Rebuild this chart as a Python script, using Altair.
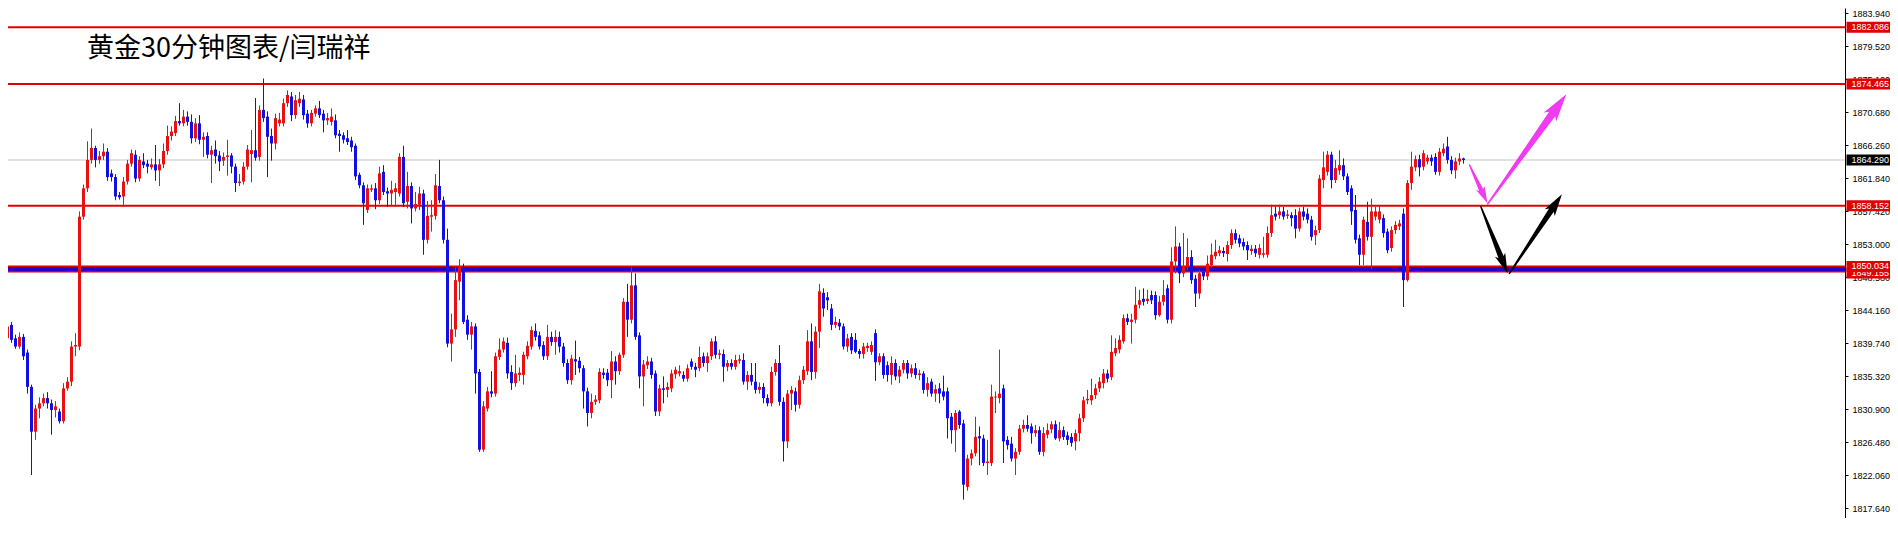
import math
import altair as alt
import pandas as pd

title_text = "黄金30分钟图表/闫瑞祥"

opens = [
1838.0, 1838.9, 1840.4, 1842.2, 1840.4, 1839.3, 1840.6, 1838.5, 1833.9, 1827.9,
1831.0, 1831.7, 1832.4, 1831.7, 1830.8, 1830.6, 1829.3, 1833.7, 1834.6, 1839.3,
1839.3, 1856.7, 1860.5, 1864.3, 1865.9, 1864.3, 1864.8, 1865.4, 1862.5, 1862.0,
1859.6, 1859.4, 1861.4, 1863.8, 1865.0, 1861.8, 1864.1, 1863.8, 1863.3, 1863.7,
1862.9, 1863.7, 1865.5, 1867.5, 1867.9, 1869.5, 1869.2, 1870.1, 1869.4, 1867.2,
1869.2, 1867.0, 1867.5, 1865.0, 1865.7, 1864.9, 1864.2, 1864.7, 1864.9, 1863.4,
1861.2, 1861.4, 1863.4, 1865.1, 1865.6, 1864.7, 1871.0, 1870.1, 1867.5, 1866.5,
1869.2, 1869.2, 1871.9, 1872.8, 1870.3, 1871.9, 1872.4, 1870.5, 1869.2, 1870.5,
1871.2, 1870.5, 1869.6, 1869.4, 1869.6, 1867.8, 1867.6, 1867.2, 1866.9, 1866.2,
1862.3, 1860.9, 1857.6, 1860.3, 1860.5, 1858.9, 1862.7, 1860.1, 1859.8, 1860.0,
1859.8, 1864.7, 1858.7, 1860.8, 1857.8, 1858.3, 1859.8, 1853.6, 1856.7, 1856.8,
1860.8, 1858.9, 1853.6, 1839.7, 1841.6, 1848.0, 1849.8, 1842.9, 1840.9, 1842.0,
1835.9, 1825.5, 1831.0, 1833.3, 1833.0, 1837.9, 1838.9, 1839.8, 1835.9, 1834.4,
1835.5, 1835.5, 1838.0, 1839.3, 1841.4, 1840.8, 1839.5, 1838.0, 1840.6, 1839.9,
1840.6, 1839.3, 1837.1, 1834.8, 1837.6, 1837.4, 1836.4, 1833.3, 1830.4, 1831.9,
1832.1, 1835.8, 1835.8, 1834.8, 1837.3, 1836.0, 1838.2, 1845.3, 1842.9, 1847.5,
1840.8, 1835.3, 1836.8, 1837.3, 1835.7, 1830.6, 1833.7, 1833.5, 1833.7, 1835.6,
1835.7, 1835.5, 1835.0, 1837.3, 1836.6, 1836.4, 1838.0, 1837.1, 1838.0, 1840.0,
1838.2, 1838.3, 1836.6, 1837.1, 1836.6, 1837.4, 1837.5, 1834.6, 1835.5, 1834.6,
1833.5, 1833.9, 1832.4, 1831.7, 1835.9, 1837.1, 1831.9, 1826.6, 1833.0, 1833.3,
1831.5, 1834.8, 1836.0, 1840.0, 1835.9, 1841.3, 1846.5, 1845.9, 1844.4, 1842.2,
1842.5, 1842.0, 1839.3, 1840.6, 1840.2, 1838.7, 1838.3, 1839.1, 1838.6, 1841.1,
1837.2, 1838.0, 1836.8, 1835.5, 1837.1, 1835.3, 1836.2, 1837.1, 1835.7, 1836.4,
1835.5, 1835.7, 1833.5, 1834.6, 1833.0, 1833.7, 1833.3, 1833.3, 1829.9, 1828.1,
1830.6, 1829.0, 1820.5, 1824.3, 1825.0, 1827.3, 1827.0, 1823.7, 1823.7, 1832.5,
1832.4, 1833.7, 1826.8, 1826.3, 1824.3, 1825.2, 1828.3, 1828.8, 1828.6, 1827.7,
1828.1, 1825.2, 1827.5, 1828.2, 1828.9, 1827.0, 1828.1, 1827.4, 1827.2, 1826.6,
1827.7, 1829.7, 1832.1, 1832.1, 1832.8, 1833.7, 1834.4, 1835.7, 1835.2, 1838.4,
1838.9, 1840.0, 1843.1, 1842.6, 1842.9, 1844.9, 1845.7, 1845.4, 1846.2, 1846.2,
1843.5, 1845.3, 1847.1, 1842.9, 1850.7, 1852.7, 1849.1, 1850.0, 1851.3, 1848.4,
1846.4, 1849.3, 1848.7, 1850.2, 1851.4, 1851.8, 1852.1, 1851.7, 1852.9, 1854.5,
1853.8, 1853.3, 1852.9, 1852.1, 1852.4, 1851.6, 1851.6, 1851.6, 1854.5, 1857.1,
1856.9, 1857.4, 1856.8, 1856.9, 1856.9, 1855.1, 1857.4, 1857.1, 1856.3, 1854.2,
1854.9, 1861.6, 1862.7, 1865.0, 1861.6, 1862.9, 1863.6, 1862.1, 1860.5, 1857.6,
1853.8, 1851.6, 1856.0, 1854.0, 1856.7, 1856.3, 1856.5, 1854.7, 1852.5, 1854.9,
1855.4, 1857.1, 1848.2, 1861.2, 1863.3, 1864.4, 1863.4, 1864.1, 1864.6, 1864.7,
1862.7, 1865.2, 1866.1, 1864.3, 1862.9, 1864.1, 1864.5,
]

highs = [
1839.3, 1840.6, 1842.4, 1842.6, 1840.9, 1841.2, 1841.0, 1838.9, 1834.2, 1831.5,
1832.5, 1833.0, 1833.2, 1832.2, 1832.0, 1831.0, 1834.4, 1835.2, 1840.0, 1841.1,
1857.4, 1861.0, 1866.8, 1868.5, 1866.2, 1865.5, 1866.5, 1865.9, 1863.0, 1862.4,
1860.0, 1862.0, 1864.3, 1865.7, 1865.6, 1864.8, 1865.2, 1864.3, 1864.5, 1866.3,
1864.4, 1866.5, 1868.9, 1868.8, 1870.2, 1871.9, 1871.0, 1870.8, 1870.4, 1869.9,
1870.3, 1868.0, 1868.0, 1866.2, 1866.9, 1865.5, 1865.3, 1867.0, 1865.2, 1863.8,
1862.4, 1864.0, 1866.3, 1868.3, 1872.6, 1871.6, 1875.2, 1870.8, 1868.5, 1870.5,
1870.6, 1872.5, 1873.6, 1873.4, 1873.0, 1873.4, 1873.0, 1871.0, 1871.0, 1871.6,
1872.2, 1871.0, 1870.6, 1871.2, 1870.4, 1868.3, 1868.0, 1868.3, 1867.4, 1866.5,
1862.6, 1861.3, 1861.0, 1861.0, 1861.2, 1863.4, 1863.6, 1860.6, 1861.5, 1861.2,
1865.2, 1866.2, 1862.7, 1861.3, 1860.0, 1860.7, 1860.3, 1858.8, 1858.9, 1862.4,
1864.3, 1859.4, 1855.1, 1843.7, 1850.0, 1851.0, 1850.4, 1843.5, 1842.6, 1842.4,
1836.3, 1832.0, 1833.9, 1836.0, 1838.5, 1840.4, 1840.5, 1840.5, 1836.8, 1838.2,
1836.5, 1838.6, 1840.0, 1842.0, 1842.4, 1841.3, 1840.0, 1842.2, 1841.3, 1841.5,
1841.3, 1839.8, 1837.6, 1838.2, 1840.1, 1837.9, 1836.8, 1833.8, 1833.0, 1832.8,
1836.4, 1836.4, 1836.3, 1838.7, 1838.0, 1838.5, 1845.8, 1847.7, 1850.0, 1849.1,
1841.2, 1837.5, 1838.0, 1837.8, 1836.1, 1834.2, 1835.3, 1834.5, 1836.2, 1836.6,
1836.8, 1836.0, 1836.9, 1837.7, 1837.1, 1839.3, 1838.5, 1838.5, 1840.4, 1840.7,
1838.9, 1838.9, 1837.5, 1837.6, 1838.2, 1838.2, 1838.4, 1836.0, 1837.1, 1837.1,
1834.5, 1834.4, 1832.9, 1836.6, 1837.6, 1839.5, 1832.5, 1833.5, 1834.0, 1833.8,
1835.4, 1836.7, 1841.5, 1842.4, 1842.0, 1847.7, 1847.1, 1846.6, 1845.0, 1843.3,
1843.0, 1842.4, 1841.0, 1841.1, 1841.1, 1839.0, 1839.8, 1839.8, 1840.0, 1841.6,
1838.4, 1838.4, 1837.3, 1838.0, 1837.6, 1836.7, 1837.5, 1837.5, 1836.9, 1837.1,
1836.2, 1836.0, 1835.2, 1835.0, 1834.2, 1834.4, 1835.4, 1833.8, 1830.4, 1830.8,
1830.8, 1829.5, 1824.8, 1825.5, 1829.9, 1828.6, 1827.5, 1826.8, 1834.2, 1833.3,
1838.9, 1834.2, 1827.3, 1827.2, 1825.7, 1828.8, 1829.5, 1830.1, 1829.0, 1828.8,
1828.6, 1828.5, 1829.0, 1829.3, 1829.4, 1829.2, 1828.6, 1827.9, 1827.7, 1828.2,
1830.3, 1832.6, 1833.5, 1835.0, 1834.3, 1835.2, 1836.3, 1836.2, 1840.8, 1840.4,
1840.8, 1843.6, 1843.7, 1843.7, 1847.3, 1846.9, 1847.1, 1846.9, 1846.8, 1846.7,
1846.1, 1848.2, 1847.6, 1852.6, 1855.4, 1853.2, 1854.5, 1853.8, 1852.2, 1848.9,
1849.6, 1849.8, 1851.5, 1853.1, 1853.6, 1852.8, 1852.6, 1853.4, 1855.0, 1855.0,
1854.3, 1853.8, 1853.4, 1852.9, 1852.9, 1853.0, 1854.0, 1855.4, 1858.3, 1858.0,
1858.3, 1858.0, 1857.6, 1857.3, 1857.7, 1857.9, 1858.0, 1857.8, 1856.8, 1855.5,
1862.3, 1865.4, 1865.5, 1865.4, 1864.3, 1865.6, 1864.5, 1862.5, 1860.9, 1859.6,
1854.3, 1856.7, 1858.7, 1859.1, 1858.0, 1858.1, 1857.0, 1855.1, 1855.4, 1856.1,
1856.3, 1857.8, 1861.6, 1865.4, 1864.9, 1865.0, 1865.6, 1865.0, 1865.0, 1865.2,
1865.9, 1866.5, 1867.4, 1864.8, 1864.6, 1865.2, 1864.6,
]

lows = [
1837.6, 1838.5, 1840.0, 1839.8, 1839.0, 1839.0, 1837.5, 1833.0, 1822.1, 1826.8,
1829.7, 1831.3, 1831.0, 1827.5, 1829.8, 1829.0, 1829.0, 1833.4, 1834.0, 1838.0,
1838.8, 1856.3, 1860.0, 1863.8, 1863.3, 1863.8, 1864.3, 1861.5, 1861.4, 1858.9,
1859.0, 1858.0, 1861.0, 1863.4, 1861.3, 1861.4, 1863.2, 1862.5, 1863.0, 1861.5,
1860.8, 1863.2, 1865.0, 1866.9, 1867.5, 1868.9, 1868.8, 1868.9, 1866.5, 1866.7,
1866.4, 1864.7, 1864.5, 1861.2, 1863.8, 1862.8, 1863.5, 1862.2, 1862.5, 1860.0,
1860.8, 1861.0, 1863.0, 1861.3, 1864.2, 1864.2, 1869.4, 1862.0, 1864.2, 1865.7,
1868.8, 1868.8, 1871.4, 1869.5, 1869.8, 1871.4, 1869.7, 1868.6, 1868.8, 1870.1,
1869.9, 1868.0, 1869.0, 1868.9, 1867.2, 1865.4, 1866.5, 1866.3, 1865.4, 1861.6,
1860.5, 1855.6, 1857.2, 1860.0, 1857.7, 1858.4, 1859.6, 1858.0, 1858.2, 1858.0,
1859.4, 1858.0, 1857.8, 1855.8, 1857.4, 1857.6, 1851.6, 1853.1, 1854.7, 1856.3,
1858.5, 1853.1, 1839.2, 1837.3, 1840.6, 1845.5, 1842.3, 1840.2, 1838.9, 1833.0,
1825.2, 1825.2, 1830.6, 1832.5, 1832.6, 1837.5, 1838.5, 1835.0, 1833.5, 1833.9,
1834.7, 1834.2, 1837.6, 1838.9, 1840.1, 1838.9, 1837.5, 1837.5, 1839.4, 1838.2,
1838.5, 1836.6, 1834.3, 1834.2, 1835.5, 1835.8, 1831.0, 1828.6, 1829.7, 1831.5,
1831.7, 1835.0, 1834.0, 1832.4, 1834.2, 1835.5, 1837.8, 1840.6, 1842.4, 1840.2,
1833.7, 1831.3, 1836.3, 1835.0, 1830.0, 1830.0, 1831.7, 1832.5, 1833.2, 1835.0,
1835.3, 1834.6, 1834.6, 1836.2, 1835.2, 1836.0, 1836.6, 1835.9, 1837.5, 1837.7,
1837.6, 1834.6, 1836.0, 1836.2, 1836.2, 1837.0, 1834.2, 1833.5, 1834.1, 1833.0,
1833.0, 1831.7, 1831.3, 1831.3, 1835.4, 1831.4, 1823.9, 1825.7, 1830.8, 1830.6,
1831.0, 1834.3, 1835.5, 1834.8, 1835.0, 1839.1, 1843.3, 1844.2, 1841.5, 1841.8,
1841.5, 1838.9, 1838.6, 1838.3, 1838.4, 1837.7, 1837.7, 1838.6, 1838.2, 1834.7,
1836.8, 1835.0, 1834.6, 1834.2, 1834.8, 1834.4, 1835.7, 1835.0, 1835.2, 1835.0,
1834.8, 1833.0, 1832.6, 1832.6, 1831.9, 1831.7, 1832.1, 1827.0, 1826.3, 1825.2,
1828.3, 1818.8, 1820.0, 1823.4, 1824.6, 1823.4, 1823.3, 1822.1, 1823.3, 1830.4,
1831.7, 1823.7, 1825.5, 1823.9, 1822.1, 1824.8, 1827.8, 1827.9, 1826.3, 1827.2,
1824.8, 1824.6, 1827.0, 1827.7, 1826.8, 1826.6, 1826.8, 1826.1, 1825.9, 1825.4,
1826.6, 1829.2, 1831.6, 1831.5, 1832.3, 1833.2, 1833.7, 1834.5, 1834.8, 1838.0,
1838.4, 1839.7, 1842.2, 1839.7, 1842.4, 1844.4, 1844.8, 1845.0, 1845.0, 1842.9,
1843.3, 1844.8, 1842.4, 1842.4, 1849.1, 1847.8, 1848.6, 1849.5, 1847.7, 1844.6,
1845.7, 1848.2, 1848.2, 1849.8, 1851.0, 1851.4, 1851.3, 1850.7, 1852.4, 1853.1,
1852.6, 1852.2, 1850.9, 1851.6, 1851.3, 1851.1, 1851.2, 1851.2, 1854.0, 1856.2,
1856.4, 1856.3, 1856.4, 1855.4, 1853.8, 1854.7, 1856.2, 1855.8, 1853.5, 1852.9,
1854.5, 1860.5, 1862.2, 1860.5, 1861.2, 1862.3, 1861.6, 1859.6, 1855.6, 1853.1,
1850.2, 1850.2, 1853.5, 1849.6, 1856.2, 1855.8, 1853.9, 1851.8, 1852.0, 1854.4,
1854.9, 1844.6, 1848.0, 1860.3, 1862.8, 1862.1, 1862.9, 1863.7, 1863.5, 1862.3,
1862.2, 1864.8, 1863.8, 1862.4, 1861.8, 1863.6, 1863.8,
]

closes = [
1838.9, 1840.2, 1842.0, 1840.2, 1839.3, 1840.6, 1838.0, 1833.9, 1827.9, 1831.0,
1831.7, 1832.4, 1831.7, 1830.8, 1831.3, 1829.3, 1833.7, 1834.6, 1839.3, 1839.5,
1856.7, 1860.5, 1864.3, 1865.9, 1864.3, 1864.8, 1865.4, 1862.0, 1862.0, 1859.4,
1859.3, 1861.4, 1863.8, 1865.2, 1861.8, 1864.3, 1863.6, 1863.4, 1863.7, 1862.9,
1863.7, 1865.5, 1867.5, 1868.1, 1869.5, 1869.2, 1870.1, 1869.4, 1867.2, 1869.2,
1867.0, 1867.4, 1865.0, 1865.6, 1864.8, 1864.1, 1864.7, 1864.9, 1863.4, 1861.2,
1861.4, 1863.4, 1865.7, 1865.6, 1864.6, 1871.0, 1869.9, 1867.4, 1866.5, 1869.9,
1869.7, 1871.9, 1873.0, 1870.3, 1872.3, 1872.5, 1870.3, 1869.2, 1870.6, 1871.2,
1870.3, 1869.6, 1869.9, 1870.1, 1867.6, 1867.5, 1867.0, 1866.7, 1866.0, 1862.1,
1860.9, 1858.5, 1860.5, 1860.5, 1858.9, 1862.5, 1860.0, 1859.8, 1860.3, 1860.5,
1864.7, 1858.5, 1860.8, 1857.8, 1858.4, 1859.8, 1853.6, 1856.8, 1856.9, 1860.9,
1858.9, 1853.6, 1839.7, 1841.6, 1848.2, 1850.0, 1842.6, 1840.9, 1842.0, 1835.7,
1825.5, 1831.3, 1833.3, 1833.0, 1838.0, 1838.9, 1840.0, 1835.7, 1834.4, 1835.7,
1835.8, 1838.2, 1839.4, 1841.5, 1840.6, 1839.3, 1838.0, 1840.6, 1839.9, 1840.6,
1839.3, 1837.1, 1834.8, 1837.7, 1837.3, 1836.4, 1833.3, 1830.4, 1831.9, 1832.2,
1835.9, 1835.5, 1834.8, 1837.3, 1836.0, 1838.2, 1845.3, 1842.9, 1847.5, 1840.6,
1835.3, 1836.9, 1837.3, 1835.5, 1830.6, 1833.7, 1833.5, 1833.9, 1835.7, 1836.2,
1836.0, 1835.0, 1836.4, 1836.6, 1836.2, 1837.9, 1837.1, 1838.0, 1840.0, 1838.2,
1838.4, 1836.6, 1837.1, 1836.6, 1837.5, 1837.6, 1834.6, 1835.5, 1834.6, 1833.5,
1833.9, 1832.4, 1831.7, 1835.9, 1837.1, 1831.9, 1826.6, 1833.0, 1833.5, 1831.5,
1834.8, 1836.2, 1840.0, 1835.9, 1841.3, 1846.7, 1844.4, 1845.5, 1842.2, 1842.6,
1842.0, 1839.3, 1840.4, 1838.8, 1838.6, 1838.3, 1839.3, 1839.4, 1839.5, 1837.2,
1838.0, 1835.5, 1835.5, 1837.1, 1835.3, 1836.2, 1837.1, 1835.7, 1836.4, 1835.5,
1835.7, 1833.5, 1834.4, 1833.0, 1833.6, 1833.0, 1832.6, 1829.7, 1828.1, 1830.4,
1828.8, 1820.8, 1824.3, 1825.0, 1827.2, 1827.0, 1823.7, 1823.9, 1832.6, 1832.6,
1833.0, 1826.6, 1826.1, 1824.3, 1825.2, 1828.3, 1828.8, 1828.3, 1827.7, 1828.1,
1825.2, 1827.7, 1828.1, 1828.9, 1827.0, 1828.1, 1827.2, 1826.8, 1826.4, 1827.7,
1829.7, 1832.1, 1832.3, 1832.8, 1833.7, 1834.6, 1835.7, 1835.0, 1838.6, 1839.1,
1840.2, 1843.1, 1842.6, 1842.9, 1844.9, 1845.5, 1845.3, 1845.7, 1845.5, 1843.5,
1845.3, 1846.2, 1842.9, 1850.7, 1852.7, 1849.1, 1850.0, 1851.3, 1848.2, 1846.4,
1849.1, 1848.7, 1850.4, 1851.6, 1852.0, 1852.2, 1851.8, 1852.9, 1854.5, 1853.6,
1853.1, 1852.7, 1852.2, 1852.4, 1851.8, 1852.5, 1851.8, 1854.5, 1856.9, 1856.7,
1857.4, 1856.7, 1857.0, 1856.5, 1855.1, 1857.4, 1856.7, 1856.3, 1854.0, 1854.9,
1861.8, 1863.3, 1865.0, 1861.6, 1863.2, 1863.6, 1862.1, 1860.0, 1857.4, 1853.6,
1851.6, 1856.3, 1854.0, 1857.4, 1857.4, 1857.4, 1854.5, 1852.2, 1854.9, 1855.6,
1855.8, 1848.2, 1861.2, 1863.4, 1864.4, 1863.3, 1865.2, 1864.6, 1864.1, 1862.7,
1865.4, 1865.8, 1864.3, 1862.9, 1864.1, 1864.5, 1864.29,
]

tick_values = [1817.64, 1822.06, 1826.48, 1830.90, 1835.32, 1839.74, 1844.16, 1848.58,
               1853.00, 1857.42, 1861.84, 1866.26, 1870.68, 1875.10, 1879.52, 1883.94]

red_levels = [1882.086, 1874.465, 1858.152]
band_edges = [1850.034, 1849.35]
band_mid = [1849.69]
current_price = [1864.29]

label_under = [1849.155]
label_red = [1882.086, 1874.465, 1858.152, 1850.034]
label_black = [1864.29]

arrow_tail_i = [367.5, 372.05, 370.35, 377.5]
arrow_tail_p = [1863.62, 1858.40, 1858.04, 1849.11]
arrow_tip_i = [372.0, 391.7, 377.0, 390.6]
arrow_tip_p = [1858.49, 1873.09, 1849.11, 1859.70]
arrow_colors = ["#f03cf0", "#f03cf0", "#000000", "#000000"]
arrow_head_len = [17, 28, 20, 22]
arrow_tail_w = [1.5, 1.5, 1.5, 1.5]
arrow_shaft_w = [5.0, 8.0, 6.0, 6.0]

# ---- layout / styles ----
W, H = 1837, 510
X0, X1 = 2.125, 2.125 + W / 4.0
Y0, Y1 = 1816.339, 1884.648
kx = W / (X1 - X0)
ky = H / (Y1 - Y0)
UP, DOWN = "#e81010", "#1010e0"
LINE_RED = "#e00000"
BAND_BLUE = "#2800c8"

xs = alt.Scale(domain=[X0, X1], nice=False, zero=False)
ys = alt.Scale(domain=[Y0, Y1], nice=False, zero=False)

df = pd.DataFrame({"i": list(range(len(closes))), "o": opens, "h": highs, "l": lows, "c": closes})
df["col"] = [UP if c >= o else DOWN for o, c in zip(opens, closes)]

yaxis = alt.Axis(orient="right", values=tick_values, format=".3f", title=None, grid=False,
                 labelFont="Liberation Sans", labelFontSize=9, labelColor="#000000",
                 tickColor="#000000", tickSize=3, domainColor="#000000", domainWidth=1,
                 labelPadding=4, labelOverlap=False, labelFlush=False, zindex=0)


def X(f):
    return alt.X(f, scale=xs, axis=None)


def Y(f):
    return alt.Y(f, scale=ys, axis=yaxis)


levels = alt.Chart(pd.DataFrame({"p": red_levels})).mark_rule(color=LINE_RED, strokeWidth=2).encode(y=Y("p:Q"))
grayline = alt.Chart(pd.DataFrame({"p": current_price})).mark_rule(color="#c4c4c4", strokeWidth=1).encode(y=Y("p:Q"))
edges = alt.Chart(pd.DataFrame({"p": band_edges})).mark_rule(color=LINE_RED, strokeWidth=2).encode(y=Y("p:Q"))
band = alt.Chart(pd.DataFrame({"p": band_mid})).mark_rule(color=BAND_BLUE, strokeWidth=4.2).encode(y=Y("p:Q"))

wicks = alt.Chart(df).mark_rule(strokeWidth=1, clip=True).encode(
    x=X("i:Q"), y=Y("l:Q"), y2=alt.Y2("h:Q"),
    color=alt.Color("col:N", scale=None))
bodies = alt.Chart(df).mark_rule(strokeWidth=3, clip=True).encode(
    x=X("i:Q"), y=Y("o:Q"), y2=alt.Y2("c:Q"), color=alt.Color("col:N", scale=None))

# arrows
shaft_rows, head_rows = [], []
for k in range(len(arrow_tip_i)):
    dx = (arrow_tip_i[k] - arrow_tail_i[k]) * kx
    dy = -(arrow_tip_p[k] - arrow_tail_p[k]) * ky
    ln = math.hypot(dx, dy)
    ux, uy = dx / ln, dy / ln
    hl = arrow_head_len[k]
    shaft_rows.append({"a": k, "ord": 0, "i": arrow_tail_i[k], "p": arrow_tail_p[k],
                       "w": arrow_tail_w[k], "col": arrow_colors[k]})
    shaft_rows.append({"a": k, "ord": 1, "i": arrow_tip_i[k] - 0.6 * hl * ux / kx,
                       "p": arrow_tip_p[k] + 0.6 * hl * uy / ky, "w": arrow_shaft_w[k], "col": arrow_colors[k]})
    head_rows.append({"i": arrow_tip_i[k] - 0.5 * hl * ux / kx, "p": arrow_tip_p[k] + 0.5 * hl * uy / ky,
                      "s": hl * hl, "ang": math.degrees(math.atan2(ux, -uy)) % 360, "col": arrow_colors[k]})

shafts = alt.Chart(pd.DataFrame(shaft_rows)).mark_trail().encode(
    x=X("i:Q"), y=Y("p:Q"), size=alt.Size("w:Q", scale=None, legend=None),
    color=alt.Color("col:N", scale=None), detail="a:N", order="ord:Q")
heads = alt.Chart(pd.DataFrame(head_rows)).mark_point(
    shape="M0,-1L0.55,1L0,0.5L-0.55,1Z", filled=True, opacity=1, strokeWidth=0).encode(
    x=X("i:Q"), y=Y("p:Q"), size=alt.Size("s:Q", scale=None, legend=None),
    angle=alt.Angle("ang:Q", scale=None), color=alt.Color("col:N", scale=None))

BOX = "M-1,-0.25L1,-0.25L1,0.25L-1,0.25Z"


def price_box(vals, fill):
    d = pd.DataFrame({"v": vals})
    box = alt.Chart(d).mark_point(shape=BOX, filled=True, opacity=1, strokeWidth=0, color=fill,
                                  size=44 * 44).encode(x=alt.value(1860.5), y=Y("v:Q"))
    txt = alt.Chart(d).mark_text(align="left", baseline="middle", font="Liberation Sans", fontSize=9,
                                 color="#ffffff").encode(
        x=alt.value(1843.5), y=Y("v:Q"), text=alt.Text("v:Q", format=".3f"))
    return [box, txt]


title = alt.Chart(pd.DataFrame({"t": [title_text]})).mark_text(
    align="left", baseline="middle", font="Noto Sans CJK SC", fontSize=27, color="#000000").encode(
    x=alt.value(79), y=alt.value(41), text="t:N")

layers = [levels, grayline, edges, band, wicks, bodies, shafts, heads]
layers += price_box(label_under, LINE_RED)
layers += price_box(label_red, LINE_RED)
layers += price_box(label_black, "#000000")
layers.append(title)

chart = alt.layer(*layers).properties(
    width=W, height=H,
    padding={"left": 0, "top": 0, "right": 45, "bottom": 0},
    autosize=alt.AutoSizeParams(type="none"),
).configure_view(stroke=None)

chart.save("out.html", embed_options={"renderer": "svg", "actions": False})
